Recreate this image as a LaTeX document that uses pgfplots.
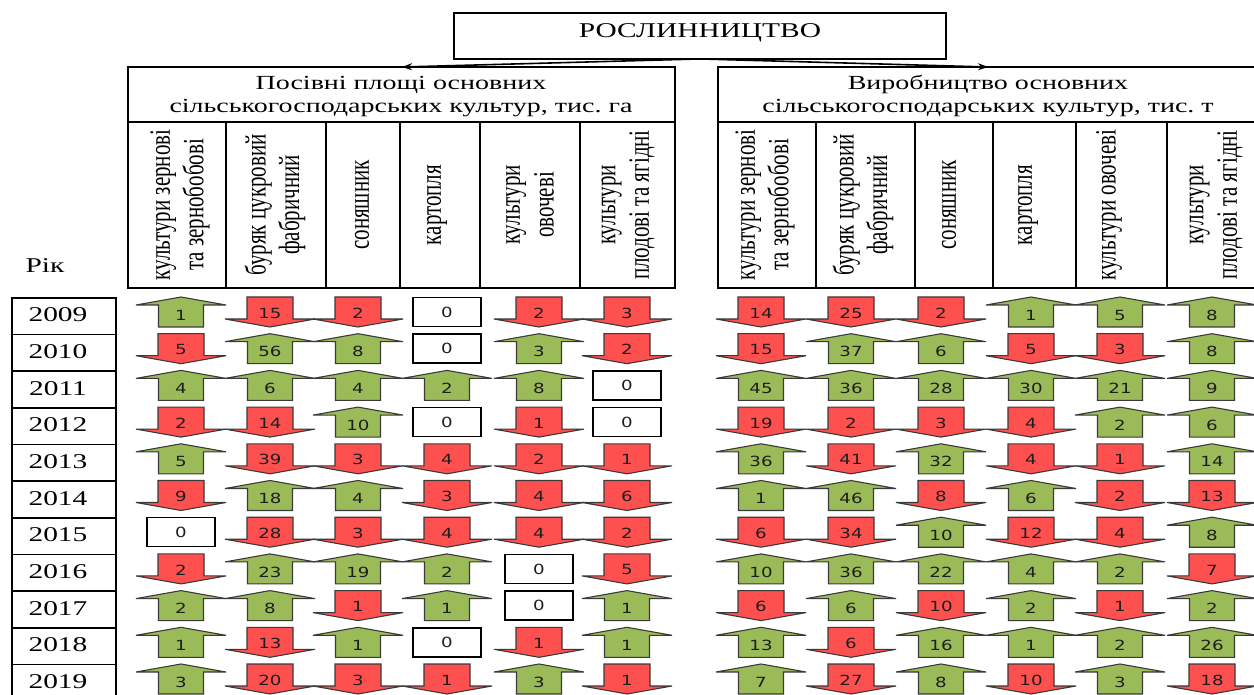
\documentclass[border=0pt]{standalone}
\usepackage{fontspec}
\setmainfont{Liberation Serif}
\newfontfamily\numfont{DejaVu Sans}
\usepackage{pgfplots}
\pgfplotsset{compat=1.18}
\usepackage{pgfplotstable}
\usetikzlibrary{arrows.meta}

\definecolor{upfill}{HTML}{9BBB59}
\definecolor{downfill}{HTML}{FF5050}
\definecolor{edgec}{HTML}{3A3A3A}
\definecolor{numc}{HTML}{1E1E1E}

\pgfdeclareplotmark{uparr}{%
  \pgfsetlinewidth{0.55pt}\pgfsetstrokecolor{edgec}\pgfsetfillcolor{upfill}%
  \pgfpathmoveto{\pgfqpoint{0pt}{7.5pt}}%
  \pgfpathlineto{\pgfqpoint{22.5pt}{3.5pt}}%
  \pgfpathlineto{\pgfqpoint{11.25pt}{3.5pt}}%
  \pgfpathlineto{\pgfqpoint{11.25pt}{-7.5pt}}%
  \pgfpathlineto{\pgfqpoint{-11.25pt}{-7.5pt}}%
  \pgfpathlineto{\pgfqpoint{-11.25pt}{3.5pt}}%
  \pgfpathlineto{\pgfqpoint{-22.5pt}{3.5pt}}%
  \pgfpathclose
  \pgfusepathqfillstroke}
\pgfdeclareplotmark{downarr}{%
  \pgfsetlinewidth{0.55pt}\pgfsetstrokecolor{edgec}\pgfsetfillcolor{downfill}%
  \pgfpathmoveto{\pgfqpoint{-11.5pt}{7.5pt}}%
  \pgfpathlineto{\pgfqpoint{11.5pt}{7.5pt}}%
  \pgfpathlineto{\pgfqpoint{11.5pt}{-3.5pt}}%
  \pgfpathlineto{\pgfqpoint{22.5pt}{-3.5pt}}%
  \pgfpathlineto{\pgfqpoint{0pt}{-7.5pt}}%
  \pgfpathlineto{\pgfqpoint{-22.5pt}{-3.5pt}}%
  \pgfpathlineto{\pgfqpoint{-11.5pt}{-3.5pt}}%
  \pgfpathclose
  \pgfusepathqfillstroke}
\pgfdeclareplotmark{zbox}{%
  \pgfsetlinewidth{0.7pt}\pgfsetstrokecolor{black}\pgfsetfillcolor{white}%
  \pgfpathrectangle{\pgfqpoint{-17pt}{-7.25pt}}{\pgfqpoint{34pt}{14.5pt}}%
  \pgfusepathqfillstroke}

% Посівні площі, тис. га (зміна за рік: + зростання, - зменшення, 0 без змін)
\pgfplotstableread{
year zern bur son kart ovoch plod
2009 1 -15 -2 0 -2 -3
2010 -5 56 8 0 3 -2
2011 4 6 4 2 8 0
2012 -2 -14 10 0 -1 0
2013 5 -39 -3 -4 -2 -1
2014 -9 18 4 -3 -4 -6
2015 0 -28 -3 -4 -4 -2
2016 -2 23 19 2 0 -5
2017 2 8 -1 1 0 1
2018 1 -13 1 0 -1 1
2019 3 -20 -3 -1 3 -1
}\areatab

% Виробництво, тис. т
\pgfplotstableread{
year zern bur son kart ovoch plod
2009 -14 -25 -2 1 5 8
2010 -15 37 6 -5 -3 8
2011 45 36 28 30 21 9
2012 -19 -2 -3 -4 2 6
2013 36 -41 32 -4 -1 14
2014 1 46 -8 6 -2 -13
2015 -6 -34 10 -12 -4 8
2016 10 36 22 4 2 -7
2017 -6 6 -10 2 -1 2
2018 13 -6 16 1 2 26
2019 7 -27 8 -10 3 -18
}\prodtab

\pgfplotsset{
  numlabel/.style={draw=none, mark=none, nodes near coords,
    /pgf/number format/assume math mode=true,
    every node near coord/.append style={font=\numfont\fontsize{7}{8}\selectfont,
      text=numc, anchor=center, inner sep=0pt, xscale=1.3}},
}
\tikzset{
  hdr/.style={xscale=1.4, rotate=90, align=center, font=\fontsize{10.5}{12}\selectfont},
  htxt/.style={anchor=base, xscale=1.4},
}
% one column of arrows: #1 table, #2 column, #3 x position (px)
\newcommand\trendcol[3]{%
  \addplot[only marks, mark=uparr, restrict expr to domain={\thisrow{#2}}{0.5:1000}]
    table[x expr=#3, y expr={312+(\thisrow{year}-2009)*36.7}] {#1};
  \addplot[only marks, mark=downarr, restrict expr to domain={\thisrow{#2}}{-1000:-0.5}]
    table[x expr=#3, y expr={312+(\thisrow{year}-2009)*36.7}] {#1};
  \addplot[only marks, mark=zbox, restrict expr to domain={\thisrow{#2}}{-0.5:0.5}]
    table[x expr=#3, y expr={312+(\thisrow{year}-2009)*36.7}] {#1};
  \addplot[numlabel, point meta={abs(\thisrow{#2})}]
    table[x expr=#3, y expr={312+(\thisrow{year}-2009)*36.7+3*(\thisrow{#2}>0)+1*(\thisrow{#2}<0)}] {#1};
}

\begin{document}
\begin{tikzpicture}
\begin{axis}[
  x=0.5pt, y=0.5pt, y dir=reverse,
  xmin=0, xmax=1254, ymin=0, ymax=695,
  enlargelimits=false, scale only axis, hide axis, clip=false,
]
% top box and arrows
\draw[line width=0.8pt] (454,13) rectangle (946,59);
\node[htxt, font=\fontsize{10.5}{12}\selectfont] at (700,38) {РОСЛИННИЦТВО};
\draw[line width=0.8pt, -{Stealth[length=5pt,width=3.5pt]}] (698,59) -- (402,67);
\draw[line width=0.8pt, -{Stealth[length=5pt,width=3.5pt]}] (702,59) -- (988,67);

% left header
\draw[line width=0.8pt] (128,67) rectangle (675,288);
\draw[line width=0.8pt] (128,122) -- (675,122);
\draw[line width=0.8pt] (226,122) -- (226,288) (326,122) -- (326,288) (400,122) -- (400,288)
  (480,122) -- (480,288) (580,122) -- (580,288);
\node[htxt, font=\fontsize{10}{12}\selectfont] at (401,90) {Посівні площі основних};
\node[htxt, font=\fontsize{10}{12}\selectfont] at (401,113) {сільськогосподарських культур, тис.~га};
\node[hdr] at (180,205) {культури зернові\\та зернобобові};
\node[hdr] at (275,205) {буряк цукровий\\фабричний};
\node[hdr] at (362,205) {соняшник};
\node[hdr] at (437,205) {картопля};
\node[hdr] at (530,205) {культури\\овочеві};
\node[hdr] at (628,205) {культури\\плодові та ягідні};

% right header
\draw[line width=0.8pt] (1262,67) -- (718,67) -- (718,288) -- (1262,288);
\draw[line width=0.8pt] (718,122) -- (1262,122);
\draw[line width=0.8pt] (816,122) -- (816,288) (915,122) -- (915,288) (993,122) -- (993,288)
  (1076,122) -- (1076,288) (1167,122) -- (1167,288);
\node[htxt, font=\fontsize{10}{12}\selectfont] at (988,90) {Виробництво основних};
\node[htxt, font=\fontsize{10}{12}\selectfont] at (988,113) {сільськогосподарських культур, тис.~т};
\node[hdr] at (765,205) {культури зернові\\та зернобобові};
\node[hdr] at (863,205) {буряк цукровий\\фабричний};
\node[hdr] at (949,205) {соняшник};
\node[hdr] at (1028,205) {картопля};
\node[hdr] at (1109,205) {культури овочеві};
\node[hdr] at (1216,205) {культури\\плодові та ягідні};

% years
\node[htxt, font=\fontsize{10.5}{12}\selectfont] at (45,273) {Рік};
\pgfplotsinvokeforeach{0,...,10}{
  \draw[line width=0.8pt] (12,{298+#1*36.65}) rectangle (116,{298+(#1+1)*36.65});
}
\node[htxt, font=\fontsize{10.5}{12}\selectfont] at (58,322) {2009};
\node[htxt, font=\fontsize{10.5}{12}\selectfont] at (58,358.65) {2010};
\node[htxt, font=\fontsize{10.5}{12}\selectfont] at (58,395.3) {2011};
\node[htxt, font=\fontsize{10.5}{12}\selectfont] at (58,431.95) {2012};
\node[htxt, font=\fontsize{10.5}{12}\selectfont] at (58,468.6) {2013};
\node[htxt, font=\fontsize{10.5}{12}\selectfont] at (58,505.25) {2014};
\node[htxt, font=\fontsize{10.5}{12}\selectfont] at (58,541.9) {2015};
\node[htxt, font=\fontsize{10.5}{12}\selectfont] at (58,578.55) {2016};
\node[htxt, font=\fontsize{10.5}{12}\selectfont] at (58,615.2) {2017};
\node[htxt, font=\fontsize{10.5}{12}\selectfont] at (58,651.85) {2018};
\node[htxt, font=\fontsize{10.5}{12}\selectfont] at (58,688.5) {2019};

% arrows: sown areas
\trendcol{\areatab}{zern}{181}
\trendcol{\areatab}{bur}{270}
\trendcol{\areatab}{son}{358}
\trendcol{\areatab}{kart}{447}
\trendcol{\areatab}{ovoch}{539}
\trendcol{\areatab}{plod}{627}
% arrows: production
\trendcol{\prodtab}{zern}{761}
\trendcol{\prodtab}{bur}{851}
\trendcol{\prodtab}{son}{941}
\trendcol{\prodtab}{kart}{1031}
\trendcol{\prodtab}{ovoch}{1120}
\trendcol{\prodtab}{plod}{1212}
\end{axis}
\pgfresetboundingbox
\path[use as bounding box] (current axis.south west) rectangle (current axis.north east);
\end{tikzpicture}
\end{document}
